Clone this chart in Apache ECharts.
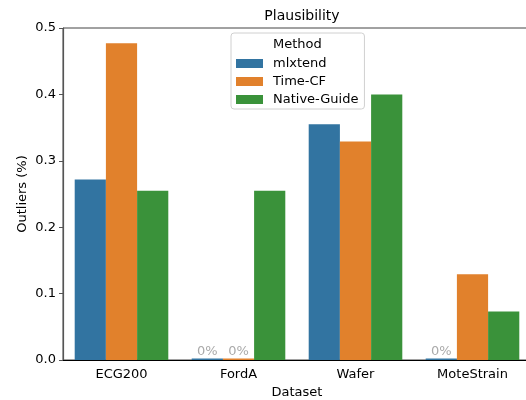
<!DOCTYPE html>
<html>
<head>
<meta charset="utf-8">
<script src="https://cdn.jsdelivr.net/npm/echarts@6/dist/echarts.min.js"></script>
<style>html,body{margin:0;padding:0;background:#fff}#c{width:526px;height:400px}</style>
</head>
<body>
<div id="c"></div>
<script>
const categories = ['ECG200', 'FordA', 'Wafer', 'MoteStrain'];
const methods = ['mlxtend', 'Time-CF', 'Native-Guide'];
const mlxtend = [0.272, 0, 0.355, 0];
const timeCF = [0.477, 0, 0.329, 0.129];
const nativeGuide = [0.255, 0.255, 0.400, 0.073];
const yTicks = [0, 0.1, 0.2, 0.3, 0.4, 0.5];
const colors = ['#3274a1', '#e1812c', '#3a923a'];

const font = 'DejaVu Sans';
const seriesValues = [mlxtend, timeCF, nativeGuide];

function makeData(vals) {
  return vals.map(v => ({
    value: v,
    label: { show: v === 0 }
  }));
}

const chart = echarts.init(document.getElementById('c'), null, { renderer: 'canvas' });
chart.setOption({
  animation: false,
  textStyle: { fontFamily: font },
  title: {
    text: 'Plausibility',
    left: 297, top: 4, textAlign: 'center',
    textStyle: { fontFamily: font, fontSize: 14, fontWeight: 'normal', color: '#000' }
  },
  grid: { left: 63, width: 468, top: 28, height: 332, outerBoundsMode: 'none', containLabel: false,
    show: true, borderColor: '#444', borderWidth: 1, backgroundColor: 'transparent' },
  legend: {
    data: methods,
    orient: 'vertical',
    left: 231, top: 33,
    padding: [24, 6, 3, 5],
    itemWidth: 27, itemHeight: 9,
    itemGap: 5,
    borderColor: '#d0d0d0', borderWidth: 1, borderRadius: 3,
    backgroundColor: 'rgba(255,255,255,0.8)',
    textStyle: { fontFamily: font, fontSize: 13, color: '#000', padding: [0, 0, 0, 5] },
    icon: 'rect'
  },
  graphic: [{
    type: 'text', left: 273, top: 38,
    style: { text: 'Method', fontFamily: font, fontSize: 13, fill: '#000' },
    z: 100
  }],
  xAxis: {
    type: 'category', data: categories,
    name: 'Dataset', nameLocation: 'middle', nameGap: 26, nameMoveOverlap: false,
    nameTextStyle: { fontFamily: font, fontSize: 13, color: '#000' },
    axisLine: { lineStyle: { color: '#000', width: 1.2 } },
    axisTick: { alignWithLabel: true, length: 4, lineStyle: { color: '#000' } },
    axisLabel: { fontFamily: font, fontSize: 13, color: '#000', margin: 8 }
  },
  yAxis: {
    type: 'value', min: 0, max: 0.5, interval: 0.1,
    name: 'Outliers (%)', nameLocation: 'middle', nameGap: 34, nameMoveOverlap: false,
    nameTextStyle: { fontFamily: font, fontSize: 13, color: '#000' },
    axisLine: { show: true, lineStyle: { color: '#555', width: 1.2 } },
    axisTick: { show: true, length: 4, lineStyle: { color: '#555' } },
    splitLine: { show: false },
    axisLabel: { fontFamily: font, fontSize: 13, color: '#000', margin: 7,
      formatter: v => { const t = yTicks.find(x => Math.abs(x - v) < 1e-9); return (t !== undefined ? t : v).toFixed(1); } }
  },
  series: seriesValues.map((vals, i) => ({
    name: methods[i], type: 'bar',
    data: makeData(vals),
    barGap: '0%', barCategoryGap: '20%',
    barMinHeight: 1.5,
    itemStyle: { color: colors[i] },
    label: { position: 'top', distance: 0, formatter: () => '0%', fontFamily: font, fontSize: 13, color: '#aaaaaa' }
  }))
});
</script>
</body>
</html>
